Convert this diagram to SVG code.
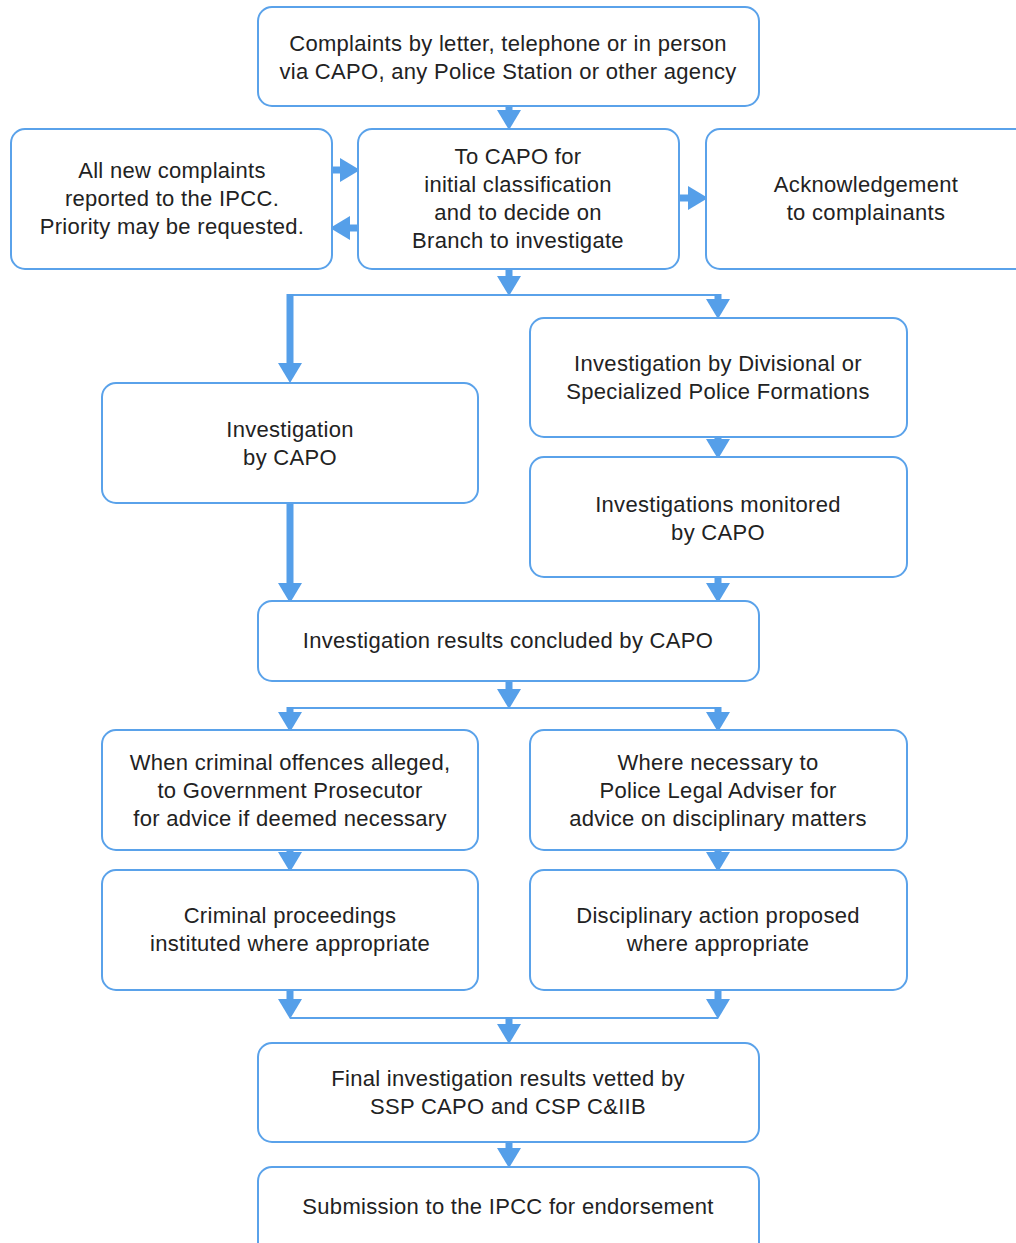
<svg xmlns="http://www.w3.org/2000/svg" width="1016" height="1243" viewBox="0 0 1016 1243">
<style>
.box{fill:#fff;stroke:#5aa2ea;stroke-width:2}
.t{font-family:"Liberation Sans",Arial,sans-serif;font-size:22px;letter-spacing:0.3px;fill:#222;text-anchor:middle}
.stem{stroke:#559fe9;stroke-width:7;fill:none}
.thin{stroke:#5aa2ea;stroke-width:2;fill:none}
</style>
<defs>
<marker id="ah" viewBox="0 0 20 24" refX="0" refY="12" markerWidth="20" markerHeight="24" markerUnits="userSpaceOnUse" orient="auto">
<path d="M0,0 L20,12 L0,24 Z" fill="#559fe9"/>
</marker>
</defs>
<rect width="1016" height="1243" fill="#fff"/>
<g id="connectors">
<path class="stem" d="M509,106 V110" marker-end="url(#ah)"/>
<path class="stem" d="M332,170 H340" marker-end="url(#ah)"/>
<path class="stem" d="M358,228 H350" marker-end="url(#ah)"/>
<path class="stem" d="M679,198 H688" marker-end="url(#ah)"/>
<path class="stem" d="M509,269 V276" marker-end="url(#ah)"/>
<path class="thin" d="M287,295 H719"/>
<path class="stem" d="M290,294 V363" marker-end="url(#ah)"/>
<path class="stem" d="M718,294 V299" marker-end="url(#ah)"/>
<path class="stem" d="M718,437 V439" marker-end="url(#ah)"/>
<path class="stem" d="M290,503 V583" marker-end="url(#ah)"/>
<path class="stem" d="M718,577 V583" marker-end="url(#ah)"/>
<path class="stem" d="M509,681 V689" marker-end="url(#ah)"/>
<path class="thin" d="M289,708 H719"/>
<path class="stem" d="M290,707 V712" marker-end="url(#ah)"/>
<path class="stem" d="M718,707 V712" marker-end="url(#ah)"/>
<path class="stem" d="M290,850 V852" marker-end="url(#ah)"/>
<path class="stem" d="M718,850 V852" marker-end="url(#ah)"/>
<path class="stem" d="M290,990 V999" marker-end="url(#ah)"/>
<path class="stem" d="M718,990 V999" marker-end="url(#ah)"/>
<path class="thin" d="M290,1018 H718"/>
<path class="stem" d="M509,1017 V1024" marker-end="url(#ah)"/>
<path class="stem" d="M509,1142 V1148" marker-end="url(#ah)"/>
</g>
<g id="n1"><rect class="box" x="258" y="7" width="501" height="99" rx="14"/>
<text class="t" x="508" y="51">Complaints by letter, telephone or in person</text>
<text class="t" x="508" y="79">via CAPO, any Police Station or other agency</text></g>
<g id="n2"><rect class="box" x="11" y="129" width="321" height="140" rx="14"/>
<text class="t" x="172" y="178">All new complaints</text>
<text class="t" x="172" y="206">reported to the IPCC.</text>
<text class="t" x="172" y="234">Priority may be requested.</text></g>
<g id="n3"><rect class="box" x="358" y="129" width="321" height="140" rx="14"/>
<text class="t" x="518" y="164">To CAPO for</text>
<text class="t" x="518" y="192">initial classification</text>
<text class="t" x="518" y="220">and to decide on</text>
<text class="t" x="518" y="248">Branch to investigate</text></g>
<g id="n4"><rect class="box" x="706" y="129" width="330" height="140" rx="14"/>
<text class="t" x="866" y="192">Acknowledgement</text>
<text class="t" x="866" y="220">to complainants</text></g>
<g id="n5"><rect class="box" x="530" y="318" width="377" height="119" rx="14"/>
<text class="t" x="718" y="371">Investigation by Divisional or</text>
<text class="t" x="718" y="399">Specialized Police Formations</text></g>
<g id="n6"><rect class="box" x="102" y="383" width="376" height="120" rx="14"/>
<text class="t" x="290" y="437">Investigation</text>
<text class="t" x="290" y="465">by CAPO</text></g>
<g id="n7"><rect class="box" x="530" y="457" width="377" height="120" rx="14"/>
<text class="t" x="718" y="512">Investigations monitored</text>
<text class="t" x="718" y="540">by CAPO</text></g>
<g id="n8"><rect class="box" x="258" y="601" width="501" height="80" rx="14"/>
<text class="t" x="508" y="648">Investigation results concluded by CAPO</text></g>
<g id="n9"><rect class="box" x="102" y="730" width="376" height="120" rx="14"/>
<text class="t" x="290" y="770">When criminal offences alleged,</text>
<text class="t" x="290" y="798">to Government Prosecutor</text>
<text class="t" x="290" y="826">for advice if deemed necessary</text></g>
<g id="n10"><rect class="box" x="530" y="730" width="377" height="120" rx="14"/>
<text class="t" x="718" y="770">Where necessary to</text>
<text class="t" x="718" y="798">Police Legal Adviser for</text>
<text class="t" x="718" y="826">advice on disciplinary matters</text></g>
<g id="n11"><rect class="box" x="102" y="870" width="376" height="120" rx="14"/>
<text class="t" x="290" y="923">Criminal proceedings</text>
<text class="t" x="290" y="951">instituted where appropriate</text></g>
<g id="n12"><rect class="box" x="530" y="870" width="377" height="120" rx="14"/>
<text class="t" x="718" y="923">Disciplinary action proposed</text>
<text class="t" x="718" y="951">where appropriate</text></g>
<g id="n13"><rect class="box" x="258" y="1043" width="501" height="99" rx="14"/>
<text class="t" x="508" y="1086">Final investigation results vetted by</text>
<text class="t" x="508" y="1114">SSP CAPO and CSP C&amp;IIB</text></g>
<g id="n14"><rect class="box" x="258" y="1167" width="501" height="90" rx="14"/>
<text class="t" x="508" y="1214">Submission to the IPCC for endorsement</text></g>
</svg>
